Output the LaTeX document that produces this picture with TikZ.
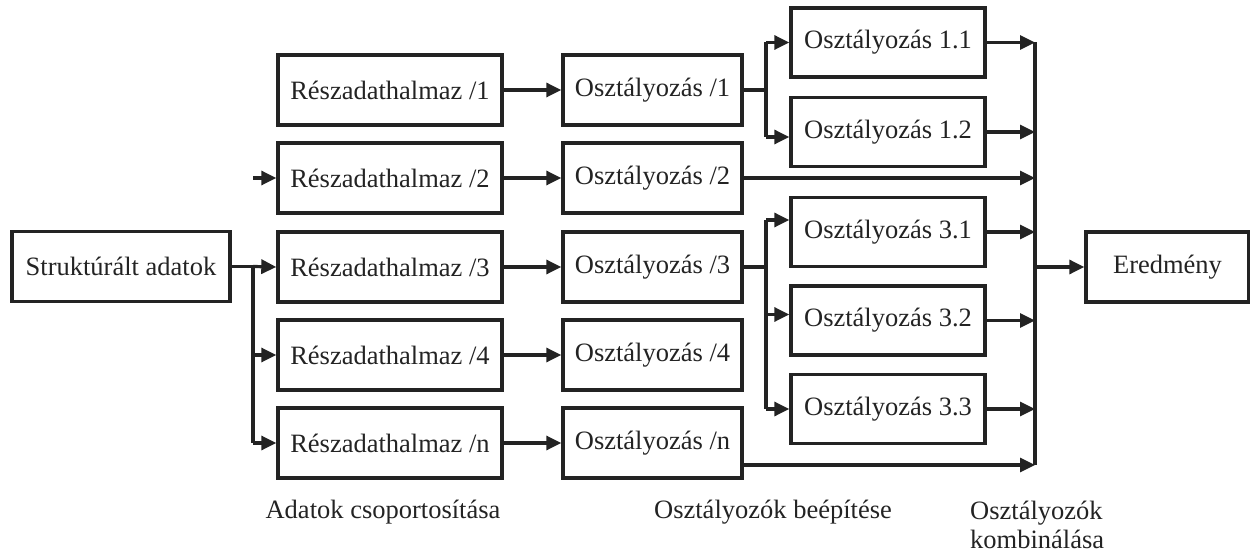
\documentclass[tikz,border=0pt]{standalone}
\usepackage{fontspec}
\setmainfont{Liberation Serif}
\usetikzlibrary{arrows.meta,calc}
\definecolor{ink}{HTML}{232323}
\begin{document}
\begin{tikzpicture}[x=1pt,y=-1pt,
  every node/.style={font=\fontsize{26.5}{29}\selectfont, text=ink},
  box/.style={draw=ink, line width=3.4pt, inner sep=0pt, minimum height=70pt},
  sbox/.style={box, minimum width=218pt},
  rbox/.style={box, minimum width=224pt},
  obox/.style={box, minimum width=179pt},
  cbox/.style={box, minimum width=194pt, minimum height=69pt},
  ebox/.style={box, minimum width=163pt},
  wire/.style={draw=ink, line width=3.2pt},
  arr/.style={wire, -{Triangle[length=15pt,width=14pt]}},
  caption/.style={inner sep=0pt}]
\useasboundingbox (0,0) rectangle (1250,553);

% input
\node[sbox] (s) at (121,266.5) {Struktúrált adatok};

% data subsets
\node[rbox] (r1) at (390,90)  {Részadathalmaz /1};
\node[rbox] (r2) at (390,178) {Részadathalmaz /2};
\node[rbox] (r3) at (390,267) {Részadathalmaz /3};
\node[rbox] (r4) at (390,355) {Részadathalmaz /4};
\node[rbox] (rn) at (390,443) {Részadathalmaz /n};

% classifiers per subset
\node[obox] (o1) at (652.5,90)  {Osztályozás /1};
\node[obox] (o2) at (652.5,178) {Osztályozás /2};
\node[obox] (o3) at (652.5,267) {Osztályozás /3};
\node[obox] (o4) at (652.5,355) {Osztályozás /4};
\node[obox] (on) at (652.5,443) {Osztályozás /n};

% sub-classifiers
\node[cbox] (c11) at (888,42.5)  {Osztályozás 1.1};
\node[cbox] (c12) at (888,132)   {Osztályozás 1.2};
\node[cbox] (c31) at (888,232)   {Osztályozás 3.1};
\node[cbox] (c32) at (888,320.5) {Osztályozás 3.2};
\node[cbox] (c33) at (888,409)   {Osztályozás 3.3};

% result
\node[ebox] (e) at (1167.5,267) {Eredmény};

% distribution bus on the left
\coordinate (lb) at (253,0);
\coordinate (r2in) at (253,178);
\draw[wire] (s.east) -- (s.east -| lb);
\draw[wire] (s.east -| lb) -- (rn.west -| lb);
\draw[arr] (s.east -| lb) -- (r3.west);
\draw[arr] (r4.west -| lb) -- (r4.west);
\draw[arr] (rn.west -| lb) -- (rn.west);
\draw[arr] (r2in) -- (r2.west);

% subsets to classifiers
\foreach \k in {1,2,3,4,n} \draw[arr] (r\k.east) -- (o\k.west);

% splitting buses
\coordinate (mb) at (766,0);
\draw[wire] (o1.east) -- (o1.east -| mb);
\draw[wire] (c11.west -| mb) -- ($(c12.west -| mb)+(0,5)$);
\draw[arr] (c11.west -| mb) -- (c11.west);
\draw[arr] ($(c12.west -| mb)+(0,5)$) -- ($(c12.west)+(0,5)$);

\draw[wire] (o3.east) -- (o3.east -| mb);
\draw[wire] ($(c31.west -| mb)+(0,-12)$) -- (c33.west -| mb);
\draw[arr] ($(c31.west -| mb)+(0,-12)$) -- ($(c31.west)+(0,-12)$);
\draw[arr] ($(c32.west -| mb)+(0,-6)$) -- ($(c32.west)+(0,-6)$);
\draw[arr] (c33.west -| mb) -- (c33.west);

% collecting bus on the right
\coordinate (rb) at (1035,0);
\coordinate (onout) at ($(on.east)+(0,22)$);
\draw[wire] (c11.east -| rb) -- (onout -| rb);
\foreach \c in {c11,c12,c31,c32,c33} \draw[arr] (\c.east) -- (\c.east -| rb);
\draw[arr] (o2.east) -- (o2.east -| rb);
\draw[arr] (onout) -- (onout -| rb);
\draw[arr] (e.west -| rb) -- (e.west);

% stage captions
\node[caption] (t1) at (383,512) {Adatok csoportosítása};
\node[caption] (t2) at (773,512) {Osztályozók beépítése};
\node[caption, anchor=north west, align=left] (t3) at (970,501) {Osztályozók\\kombinálása};
\end{tikzpicture}
\end{document}
